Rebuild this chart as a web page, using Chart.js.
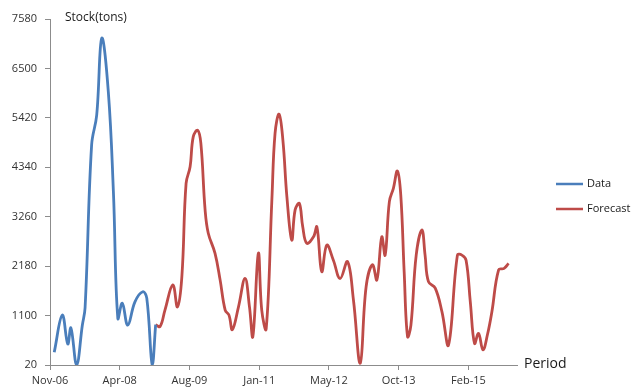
<!DOCTYPE html>
<html>
<head>
<meta charset="utf-8">
<script src="https://cdn.jsdelivr.net/npm/chart.js@4.4.1/dist/chart.umd.min.js"></script>
<style>
  html, body { margin: 0; padding: 0; background: #ffffff; }
  #wrap { width: 635px; height: 392px; position: relative; }
</style>
</head>
<body>
<div id="wrap"><canvas id="stockChart" width="635" height="392"></canvas></div>
<script>
// Period axis: half-month steps counted from Nov-06, one label every 33 steps
const periodLabels = ['Nov-06', 'Apr-08', 'Aug-09', 'Jan-11', 'May-12', 'Oct-13', 'Feb-15'];
const periodsPerLabel = 33;
const lastPeriod = 221;

// Stock axis ticks (tons)
const stockTicks = [20, 1100, 2180, 3260, 4340, 5420, 6500, 7580];

// Observed stock
const dataPeriods = [2, 5.8, 8.4, 9.9, 12.6, 15.3, 16.6, 19.7, 22.1, 24.5, 27.6, 30.0, 32.1, 34.2, 36.8, 40.2, 43.9, 45.8, 48.4, 50];
const dataStock   = [300, 1110, 480, 830, 20, 890, 1270, 4830, 5480, 7160, 5990, 3810, 1040, 1370, 890, 1400, 1620, 1480, 20, 900];

// Forecast stock
const forecastPeriods = [50, 52.1, 54.4, 58.1, 60.3, 62.4, 64.4, 66.3, 67.8, 69.9, 71.4, 73.4, 74.9, 78.1, 80.5, 82.9, 84.7, 86.3, 89.2, 92.3, 94.4, 96.0, 98.6, 100.2, 102.3, 105.0, 106.5, 108.4, 110.2, 112.1, 114.4, 116.0, 118.0, 119.6, 121.5, 124.7, 126.3, 128.6, 131.0, 134.1, 137.3, 140.8, 143.6, 146.8, 149.6, 152.6, 154.7, 157.0, 158.6, 160.6, 162.5, 164.4, 166.0, 167.6, 169.2, 170.8, 173.3, 176.0, 177.5, 179.1, 182.3, 185.5, 188.6, 192.8, 194.9, 196.9, 198.9, 200.9, 202.8, 204.9, 207.0, 209.1, 212.3, 214.9, 217.0];
const forecastStock   = [900, 860, 1220, 1770, 1290, 1950, 3990, 4350, 5010, 5150, 4860, 3410, 2900, 2460, 1880, 1220, 1110, 790, 1290, 1910, 1290, 640, 2460, 1220, 810, 3630, 5080, 5500, 4940, 3700, 2750, 3410, 3550, 3040, 2680, 2820, 3040, 2060, 2640, 2310, 1910, 2280, 1440, 60, 1730, 2210, 1880, 2820, 2420, 3590, 3880, 4260, 3730, 2060, 640, 890, 2420, 2970, 2420, 1840, 1700, 1180, 460, 2420, 2420, 2310, 1400, 490, 710, 350, 680, 1180, 2100, 2130, 2240];

const toPoints = (xs, ys) => xs.map((x, i) => ({ x: x, y: ys[i] }));

const FONT = '"Open Sans", "DejaVu Sans", sans-serif';
const AXIS_GREY = '#8c8c8c';

// Axis captions and the side legend, drawn after the chart
const decorations = {
  id: 'decorations',
  afterDraw(chart) {
    const ctx = chart.ctx;
    const area = chart.chartArea;
    ctx.save();
    ctx.fillStyle = '#1a1a1a';
    ctx.textBaseline = 'middle';
    ctx.textAlign = 'left';
    ctx.font = '12px ' + FONT;
    ctx.fillText('Stock(tons)', area.left + 15, area.top - 1);
    ctx.font = '14px ' + FONT;
    ctx.fillText('Period', area.right + 7, area.bottom - 1);

    ctx.font = '11px ' + FONT;
    const legendX = 556;
    let legendY = 184;
    chart.data.datasets.forEach(ds => {
      ctx.strokeStyle = ds.borderColor;
      ctx.lineWidth = 2.5;
      ctx.beginPath();
      ctx.moveTo(legendX, legendY);
      ctx.lineTo(legendX + 27, legendY);
      ctx.stroke();
      ctx.fillText(ds.label, legendX + 31, legendY);
      legendY += 25;
    });
    ctx.restore();
  }
};

new Chart(document.getElementById('stockChart'), {
  type: 'line',
  data: {
    datasets: [
      {
        label: 'Data',
        data: toPoints(dataPeriods, dataStock),
        borderColor: '#4a7ebb',
        borderWidth: 2.8,
        pointRadius: 0,
        tension: 0.4,
        fill: false
      },
      {
        label: 'Forecast',
        data: toPoints(forecastPeriods, forecastStock),
        borderColor: '#be4b48',
        borderWidth: 2.8,
        pointRadius: 0,
        tension: 0.4,
        fill: false
      }
    ]
  },
  options: {
    responsive: false,
    animation: false,
    layout: { padding: { top: 19, right: 118, left: 0, bottom: 0 } },
    plugins: {
      legend: { display: false },
      tooltip: { enabled: false }
    },
    scales: {
      x: {
        type: 'linear',
        min: 0,
        max: lastPeriod,
        afterBuildTicks(scale) {
          scale.ticks = periodLabels.map((_, i) => ({ value: i * periodsPerLabel }));
        },
        afterFit(scale) { scale.height = 27; },
        ticks: {
          autoSkip: false,
          maxRotation: 0,
          padding: 4,
          color: '#333333',
          font: { family: FONT, size: 11 },
          callback: value => periodLabels[Math.round(value / periodsPerLabel)]
        },
        grid: { display: true, drawOnChartArea: false, drawTicks: true, tickLength: 5, color: AXIS_GREY },
        border: { display: true, color: AXIS_GREY, width: 1 }
      },
      y: {
        type: 'linear',
        min: stockTicks[0],
        max: stockTicks[stockTicks.length - 1],
        afterBuildTicks(scale) {
          scale.ticks = stockTicks.map(v => ({ value: v }));
        },
        afterFit(scale) { scale.width = 50; },
        ticks: {
          padding: 8,
          color: '#333333',
          font: { family: FONT, size: 11 },
          callback: value => String(value)
        },
        grid: { display: true, drawOnChartArea: false, drawTicks: true, tickLength: 5, color: AXIS_GREY },
        border: { display: true, color: AXIS_GREY, width: 1 }
      }
    }
  },
  plugins: [decorations]
});
</script>
</body>
</html>
